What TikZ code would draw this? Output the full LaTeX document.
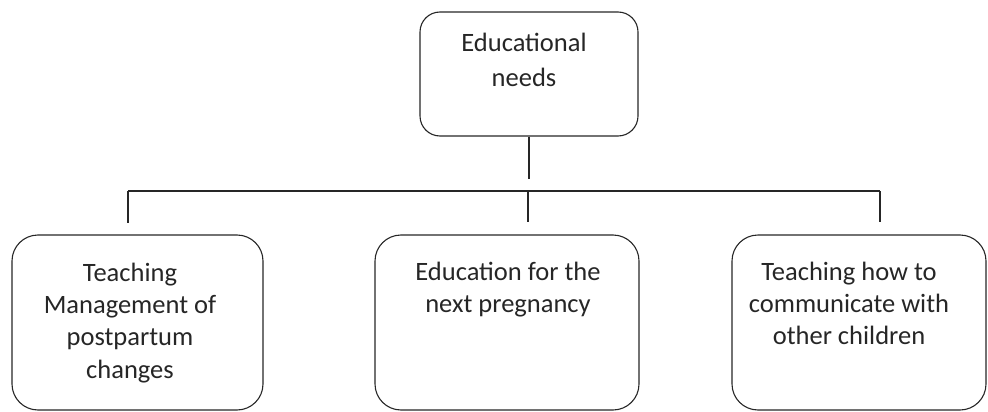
\documentclass[tikz,border=0pt]{standalone}
\usepackage{fontspec}
\setmainfont{Carlito}
\definecolor{ink}{HTML}{262626}
\begin{document}
\begin{tikzpicture}[x=1pt,y=-1pt,
  box/.style={draw=ink,line width=1.1pt,rounded corners=26pt,minimum width=#1,minimum height=175pt,inner sep=0pt},
  wire/.style={draw=ink,line width=1.1pt},
  txt/.style={text=ink,align=center,inner sep=0pt,font=\fontsize{26.5}{32.4}\selectfont}]
\useasboundingbox (0,0) rectangle (988,412);
%BOXES
\node[box=218pt,minimum height=124pt,rounded corners=20pt] (needs) at (529,74) {};
\node[box=251pt] (manage) at (137.5,322.5) {};
\node[box=264pt] (preg) at (507,322.5) {};
\node[box=254pt] (comm) at (859,322.5) {};
%TEXTS (base = last line)
\node[txt,anchor=base,font=\fontsize{26.5}{35}\selectfont] (needs-t) at (524,86.7) {Educational\\needs};
\node[txt,anchor=base] (manage-t) at (130,378.2) {Teaching\\Management of\\postpartum\\changes};
\node[txt,anchor=base] (preg-t) at (508,312.4) {Education for the\\next pregnancy};
\node[txt,anchor=base] (comm-t) at (849,344.8) {Teaching how to\\communicate with\\other children};
%CONNECTORS
\coordinate (stem) at (529,179);
\coordinate (busL) at (128,191);
\coordinate (busM) at (528,191);
\coordinate (busR) at (880,191);
\coordinate (tickL) at (128,223);
\coordinate (tickM) at (528,222);
\coordinate (tickR) at (880,222);
\draw[wire] (needs.south) -- (stem);
\draw[wire] (busL) -- (busR);
\draw[wire] (busL) -- (tickL);
\draw[wire] (busM) -- (tickM);
\draw[wire] (busR) -- (tickR);
\end{tikzpicture}
\end{document}
